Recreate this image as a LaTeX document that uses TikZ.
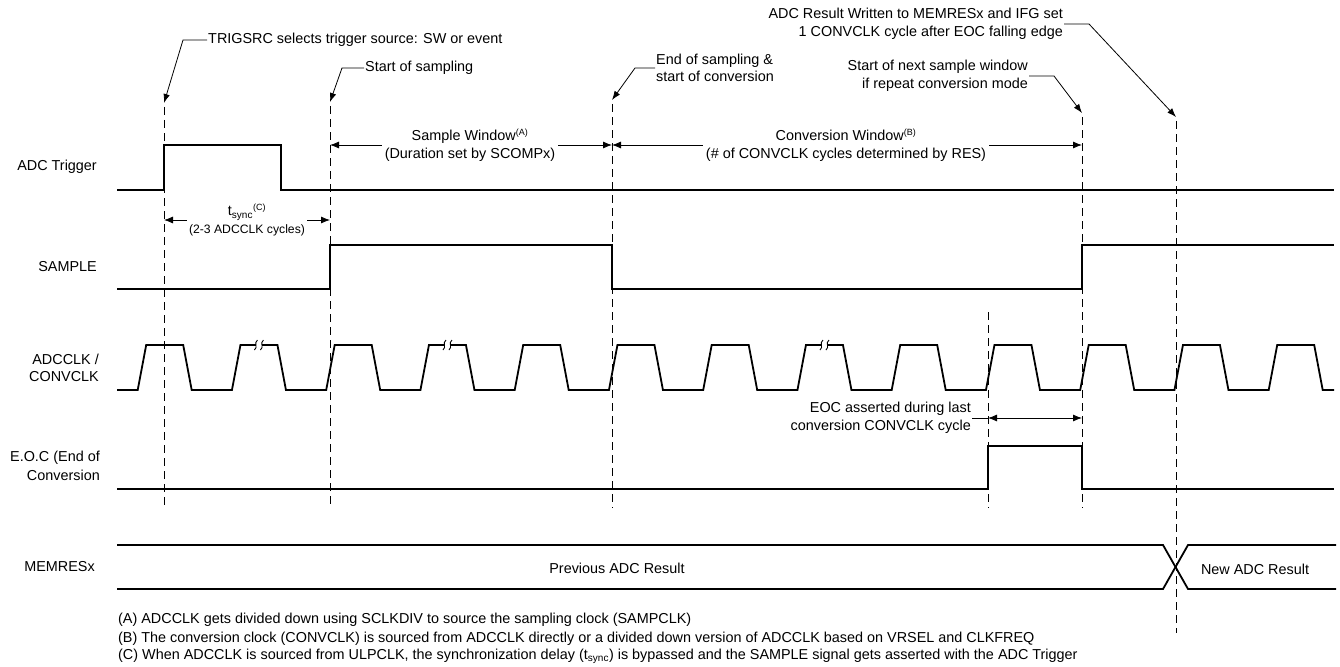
\documentclass[tikz,border=0pt]{standalone}
\usepackage{fontspec}
\setmainfont{Liberation Sans}
\usetikzlibrary{arrows.meta, positioning, calc}

\newcommand{\mainsize}{\fontsize{14.4}{17.5}\selectfont}
\newcommand{\smallsize}{\fontsize{12.2}{14}\selectfont}
\newcommand{\notesize}{\fontsize{14.4}{17}\selectfont}
\newcommand{\supsize}{\fontsize{9}{10}\selectfont}

\begin{document}
\begin{tikzpicture}[
    x=1pt, y=-1pt,
    sig/.style={line width=1.8pt},
    guide/.style={line width=0.9pt, dash pattern=on 8pt off 5pt},
    callout/.style={-{Latex[length=9pt,width=6.5pt]}, line width=0.8pt},
    dim/.style={-{Latex[length=9pt,width=7pt]}, line width=0.8pt},
    lbl/.style={font=\mainsize, align=right, anchor=east, inner sep=0pt},
    txt/.style={font=\mainsize, align=center},
    note/.style={font=\notesize, anchor=west, inner sep=0pt},
]
    \useasboundingbox (0,0) rectangle (1340,666);

    % --- time marks (dashed guides) ---
    \coordinate (trigTop) at (164,103);  \coordinate (trigBot) at (164,508);
    \coordinate (sampTop) at (330,102);  \coordinate (sampBot) at (330,508);
    \coordinate (convTop) at (612,100);  \coordinate (convBot) at (612,508);
    \coordinate (eocTop)  at (988,312);  \coordinate (eocBot)  at (988,508);
    \coordinate (nextTop) at (1082,113); \coordinate (nextBot) at (1082,508);
    \coordinate (resTop)  at (1176,117); \coordinate (resBot)  at (1176,633);

    \draw[guide] ($(trigTop)+(0,4)$) -- (trigBot);
    \draw[guide] ($(sampTop)+(0,4)$) -- (sampBot);
    \draw[guide] ($(convTop)+(0,4)$) -- (convBot);
    \draw[guide] (eocTop) -- (eocBot);
    \draw[guide] ($(nextTop)+(0,4)$) -- (nextBot);
    \draw[guide] ($(resTop)+(0,4)$) -- (resBot);

    % --- callouts ---
    \node[txt, anchor=west, inner sep=1pt] (cTrig) at (207,40)
        {TRIGSRC selects trigger source: SW or event};
    \draw[callout] (cTrig.west) -- ++(-24,0) -- (trigTop);

    \node[txt, anchor=west, inner sep=1pt] (cSamp) at (364,68) {Start of sampling};
    \draw[callout] (cSamp.west) -- ++(-22,0) -- (sampTop);

    \node[txt, anchor=west, align=left, inner sep=1pt] (cConv) at (655,68)
        {End of sampling \&\\start of conversion};
    \draw[callout] (cConv.west) -- ++(-20,0) -- (convTop);

    \node[txt, anchor=east, align=right, inner sep=1pt] (cNext) at (1029,76)
        {Start of next sample window\\if repeat conversion mode};
    \draw[callout] (cNext.east) -- ++(25,0) -- (nextTop);

    \node[txt, anchor=east, align=right, inner sep=1pt] (cRes) at (1064,24)
        {ADC Result Written to MEMRESx and IFG set\\1 CONVCLK cycle after EOC falling edge};
    \draw[callout] (cRes.east) -- ++(25,0) -- (resTop);

    % --- windows ---
    \node[txt, inner sep=3pt] (sWin) at (470,145)
        {Sample Window\textsuperscript{\supsize(A)}\\(Duration set by SCOMPx)};
    \draw[dim] (sWin.west) -- (330,145);
    \draw[dim] (sWin.east) -- (612,145);

    \node[txt, inner sep=3pt] (cWin) at (846,145)
        {Conversion Window\textsuperscript{\supsize(B)}\\(\# of CONVCLK cycles determined by RES)};
    \draw[dim] (cWin.west) -- (612,145);
    \draw[dim] (cWin.east) -- (1082,145);

    \node[txt, inner sep=2pt] (tSync) at (247,220)
        {t\textsubscript{sync}\textsuperscript{\supsize(C)}\\{\smallsize(2-3 ADCCLK cycles)}};
    \draw[dim] (tSync.west) -- (164,220);
    \draw[dim] (tSync.east) -- (330,220);

    \coordinate (eocL) at (988,418);
    \coordinate (eocR) at (1082,418);
    \node[txt, anchor=east, align=right, inner sep=1pt] (eocTxt) at (972,418)
        {EOC asserted during last\\conversion CONVCLK cycle};
    \draw[line width=0.8pt] (eocTxt.east) -- (eocL);
    \draw[{Latex[length=9pt,width=7pt]}-{Latex[length=9pt,width=7pt]}, line width=0.8pt] (eocL) -- (eocR);

    % --- signal names ---
    \node[lbl] (lTrig) at (97,167) {ADC Trigger};
    \node[lbl] (lSamp) at (97,267) {SAMPLE};
    \node[lbl] (lClk)  at (99,368) {ADCCLK /\\CONVCLK};
    \node[lbl] (lEoc)  at (100,466) {E.O.C (End of\\[1.5pt]Conversion};
    \node[lbl] (lMem)  at (95,567) {MEMRESx};

    % --- waveforms ---
    \draw[sig] (117,190) -- (164,190) -- (164,145) -- (281,145) -- (281,190) -- (1334,190);
    \draw[sig] (117,289) -- (330,289) -- (330,245) -- (612,245) -- (612,289)
        -- (1082,289) -- (1082,245) -- (1334,245);
    \draw[sig] (117,390) \foreach \k in {0,...,12} {
        -- ({137.7+94.25*\k},390) -- ({146.2+94.25*\k},345)
        -- ({183.2+94.25*\k},345) -- ({191.7+94.25*\k},390) } -- (1334,390);
    \foreach \k in {1,3,7} {
        \pgfmathsetmacro\c{164.7+94.25*\k}
        \fill[white] (\c-3,342) rectangle (\c+3,348);
        \draw[line width=0.9pt] (\c-4.5,350) .. controls (\c-0.5,347) and (\c-5.5,343) .. (\c-1.5,340);
        \draw[line width=0.9pt] (\c+1.5,350) .. controls (\c+5.5,347) and (\c+0.5,343) .. (\c+4.5,340);
    }
    \draw[sig] (117,489) -- (988,489) -- (988,446) -- (1082,446) -- (1082,489) -- (1334,489);
    \draw[sig] (117,545) -- (1163,545) -- (1188,589) -- (1336,589);
    \draw[sig] (117,589) -- (1163,589) -- (1188,545) -- (1336,545);
    \node[txt] (prevRes) at (617,568) {Previous ADC Result};
    \node[txt] (newRes) at (1255,569) {New ADC Result};

    % --- notes ---
    \node[note] (nA) at (118,620) {(A) ADCCLK gets divided down using SCLKDIV to source the sampling clock (SAMPCLK)};
    \node[note] (nB) at (118,638.5) {(B) The conversion clock (CONVCLK) is sourced from ADCCLK directly or a divided down version of ADCCLK based on VRSEL and CLKFREQ};
    \node[note] (nC) at (118,656.5) {(C) When ADCCLK is sourced from ULPCLK, the synchronization delay (t\textsubscript{sync}) is bypassed and the SAMPLE signal gets asserted with the ADC Trigger};
\end{tikzpicture}
\end{document}
